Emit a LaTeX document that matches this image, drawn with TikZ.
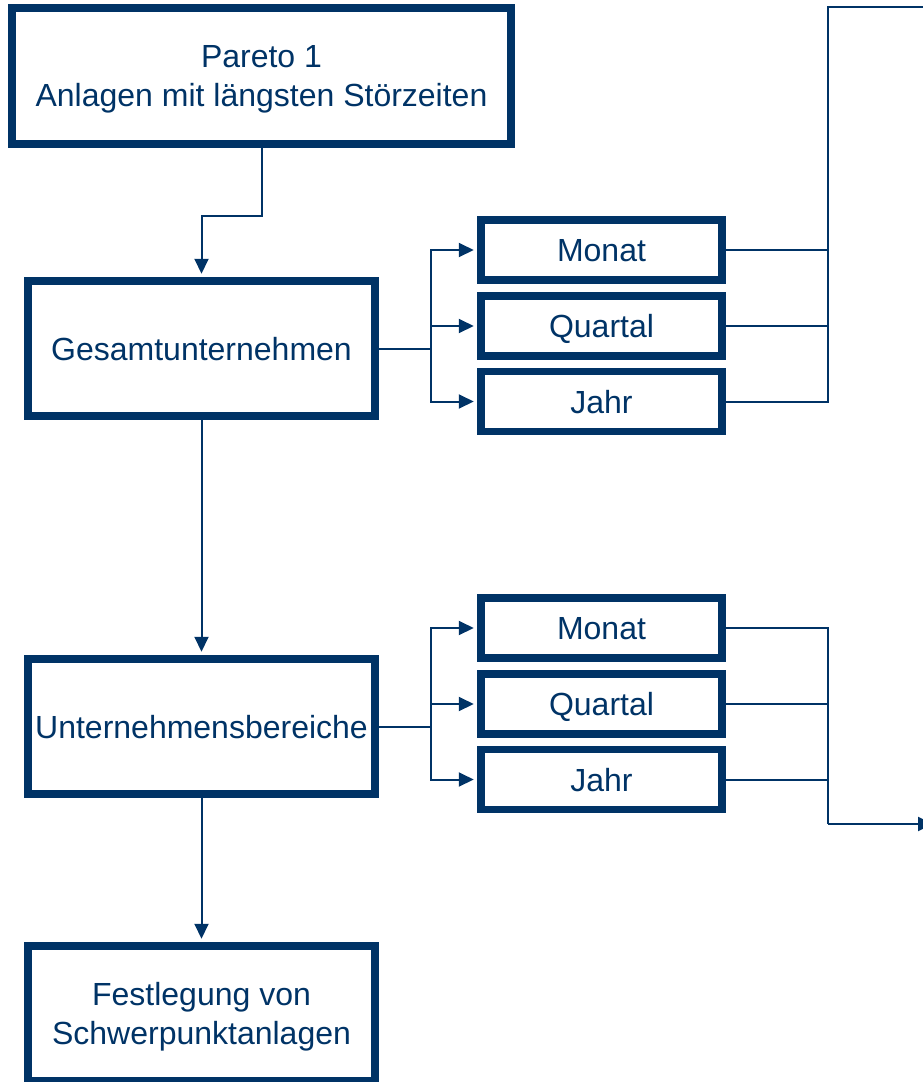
\documentclass[tikz,border=0pt]{standalone}
\usepackage{fontspec}
\setmainfont{Liberation Sans}
\usetikzlibrary{arrows.meta}
\definecolor{navy}{RGB}{0,51,102}
\begin{document}
\begin{tikzpicture}[x=1pt,y=-1pt,
        every node/.style={text=navy,font=\fontsize{32}{39}\selectfont,align=center,inner sep=2pt,text depth=0pt},
        bigbox/.style={draw=navy,line width=7.5pt,minimum width=347pt,minimum height=135pt},
        smallbox/.style={draw=navy,line width=7.5pt,minimum width=241pt,minimum height=60pt},
        conn/.style={draw=navy,line width=2pt},
        arr/.style={conn,-{Triangle[length=15pt,width=14pt]},shorten >=3.5pt}]
        \useasboundingbox (0,0) rectangle (923,1082);
        \clip (0,0) rectangle (923,1082);
        \node[draw=navy,line width=7.5pt,minimum width=499pt,minimum height=136pt] (p) at (261.5,76)
            {Pareto 1\\Anlagen mit längsten Störzeiten};
        \node[bigbox] (g) at (201.5,348.5) {Gesamtunternehmen};
        \node[bigbox] (u) at (201.5,726.5) {Unternehmensbereiche};
        \node[bigbox] (f) at (201.5,1013.5) {Festlegung von\\Schwerpunktanlagen};
        \node[smallbox] (m1) at (601.5,250) {Monat};
        \node[smallbox] (q1) at (601.5,326) {Quartal};
        \node[smallbox] (j1) at (601.5,401.5) {Jahr};
        \node[smallbox] (m2) at (601.5,628) {Monat};
        \node[smallbox] (q2) at (601.5,704) {Quartal};
        \node[smallbox] (j2) at (601.5,779.5) {Jahr};
        \coordinate (t1) at (828,7);
        \coordinate (t2) at (926,7);
        \coordinate (b1) at (828,824);
        \coordinate (b2) at (933,824);
        \draw[arr] (p.south) -- ++(0,68) -| (g.north);
        \draw[arr] (g.south) -- (u.north);
        \draw[arr] (u.south) -- (f.north);
        \draw[conn] (g.east) -- ++(52.5,0) coordinate (gb);
        \draw[conn] (u.east) -- ++(52.5,0) coordinate (ub);
        \foreach \n in {m1,q1,j1} \draw[arr] (gb) |- (\n.west);
        \foreach \n in {m2,q2,j2} \draw[arr] (ub) |- (\n.west);
        \draw[conn] (j1.east) -| (t1) -- (t2);
        \draw[conn] (m1.east) -- (m1.east -| t1);
        \draw[conn] (q1.east) -- (q1.east -| t1);
        \draw[conn] (m2.east) -| (b1);
        \draw[conn] (q2.east) -- (q2.east -| b1);
        \draw[conn] (j2.east) -- (j2.east -| b1);
        \draw[arr,shorten >=0pt] (b1) -- (b2);
\end{tikzpicture}
\end{document}
